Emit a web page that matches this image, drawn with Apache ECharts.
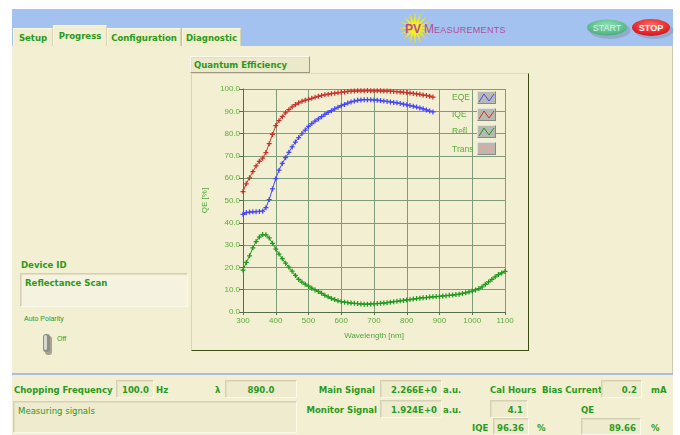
<!DOCTYPE html>
<html>
<head>
<meta charset="utf-8">
<script src="https://cdn.jsdelivr.net/npm/echarts@6/dist/echarts.min.js"></script>
<style>
body{margin:0;width:680px;height:435px;background:#fff;overflow:hidden;position:relative;font-family:"DejaVu Sans Condensed","DejaVu Sans",sans-serif;}
.abs{position:absolute;}
.topbar{left:12px;top:9px;width:661px;height:37px;background:#a4c2ef;}
.tab{position:absolute;top:28px;height:18px;background:#f1edcd;border:1px solid #d8d4b2;border-bottom:none;border-top-color:#fbf8e6;border-left-color:#fbf8e6;color:#2a9a1c;font-weight:bold;font-size:9.5px;text-align:center;line-height:18px;box-sizing:border-box;}
.tab.on{top:25px;height:21px;background:#f3efd2;line-height:19px;}
.panel{left:12px;top:46px;width:661px;height:327px;background:#f3efd2;border-right:1px solid #cfcbb0;box-sizing:border-box;}
.sep{left:12px;top:373px;width:661px;height:2px;background:#a8bde0;}
.bottom{left:12px;top:375px;width:661px;height:60px;background:#f3efd2;}
.lbl{position:absolute;color:#2a9a1c;font-weight:bold;font-size:9.5px;white-space:nowrap;}
.box{position:absolute;background:#efebcf;border:1px solid;border-color:#d4d0b4 #fbf9ea #fbf9ea #d4d0b4;box-shadow:inset 1px 1px 0 #e2dec2;box-sizing:border-box;color:#2a9a1c;font-weight:bold;font-size:9.5px;text-align:right;padding-right:4px;line-height:17px;}
.frame{left:191px;top:73px;width:338px;height:278px;background:#f3efd2;border:1px solid;border-color:#dcdcb8 #3e4a14 #3e4a14 #d4d8b0;box-sizing:border-box;}
.leg{position:absolute;color:#5cab3a;font-size:8.5px;font-family:"Liberation Sans",sans-serif;}
.legicon{position:absolute;left:477px;width:19px;height:13px;background:#b9b9b3;border:1px solid;border-color:#e2e2dc #8a8a84 #8a8a84 #e2e2dc;box-sizing:border-box;}
.legicon svg{display:block;}
</style>
</head>
<body>
<div class="abs topbar"></div>
<div class="tab" style="left:13px;width:40px;">Setup</div>
<div class="tab on" style="left:53px;width:54px;">Progress</div>
<div class="tab" style="left:107px;width:74px;">Configuration</div>
<div class="tab" style="left:182px;width:59px;">Diagnostic</div>

<!-- logo -->
<svg class="abs" style="left:396px;top:10px;" width="140" height="36">
  <polygon id="star" fill="#f4ee2a" stroke="#e8dc10" stroke-width="0.5"></polygon>
  <text x="9" y="23" font-family="Liberation Sans,sans-serif" font-size="12" fill="#b64a9e" font-weight="bold">PV</text>
  <text x="28" y="23" font-family="Liberation Sans,sans-serif" font-size="12" fill="#b64a9e">M</text>
  <text x="38" y="23" font-family="Liberation Sans,sans-serif" font-size="9" fill="#b64a9e" letter-spacing="0.3">EASUREMENTS</text>
</svg>
<!-- buttons -->
<svg class="abs" style="left:584px;top:16px;" width="92" height="26">
  <defs>
    <radialGradient id="gg" cx="50%" cy="35%" r="65%"><stop offset="0" stop-color="#8fe0b4"/><stop offset="1" stop-color="#4aae7c"/></radialGradient>
    <radialGradient id="rg" cx="50%" cy="35%" r="65%"><stop offset="0" stop-color="#ff6a5e"/><stop offset="1" stop-color="#d8101a"/></radialGradient>
  </defs>
  <ellipse cx="24" cy="12.5" rx="20.5" ry="8.5" fill="#7f93b0" opacity="0.5" transform="translate(2,2)"/>
  <ellipse cx="23" cy="11.5" rx="20" ry="8" fill="url(#gg)"/>
  <text x="23" y="15" text-anchor="middle" font-family="Liberation Sans,sans-serif" font-size="9" fill="#d8f4e4">START</text>
  <ellipse cx="68" cy="12.5" rx="19.5" ry="8.5" fill="#7f93b0" opacity="0.5" transform="translate(2,2)"/>
  <ellipse cx="67" cy="11.5" rx="19" ry="8.5" fill="url(#rg)"/>
  <text x="67" y="15" text-anchor="middle" font-family="Liberation Sans,sans-serif" font-size="9" font-weight="bold" fill="#ffffff">STOP</text>
</svg>

<div class="abs panel"></div>

<!-- chart -->
<div class="box" style="left:190px;top:56px;width:120px;height:17px;text-align:left;padding-left:3px;line-height:16px;background:#ece8ca;border-color:#fbf9ea #9c9880 #9c9880 #fbf9ea;">Quantum Efficiency</div>
<div class="abs frame"></div>
<div id="chart" class="abs" style="left:192px;top:74px;width:336px;height:276px;"></div>
<div class="leg" style="left:452px;top:92px;">EQE</div>
<div class="leg" style="left:452px;top:109px;">IQE</div>
<div class="leg" style="left:452px;top:126px;">Refl</div>
<div class="leg" style="left:452px;top:144px;">Trans</div>
<div class="legicon" style="top:91px;"><svg width="17" height="11"><polyline points="1,10 6,2 11,9 16,2" fill="none" stroke="#4a4aff" stroke-width="1"/></svg></div>
<div class="legicon" style="top:108px;"><svg width="17" height="11"><polyline points="1,10 6,2 11,9 16,2" fill="none" stroke="#c8342c" stroke-width="1"/></svg></div>
<div class="legicon" style="top:125px;"><svg width="17" height="11"><polyline points="1,10 6,2 11,9 16,2" fill="none" stroke="#1f9a1f" stroke-width="1"/></svg></div>
<div class="legicon" style="top:142px;"><svg width="17" height="11"><polyline points="1,10 6,2 11,9 16,2" fill="none" stroke="#f5a090" stroke-width="1.3"/></svg></div>

<!-- left side -->
<div class="lbl" style="left:21px;top:259px;">Device ID</div>
<div class="box" style="left:20px;top:273px;width:168px;height:34px;text-align:left;padding-left:4px;line-height:18px;background:#f5f2e0;">Reflectance Scan</div>
<div class="lbl" style="left:24px;top:315px;font-size:7px;font-weight:normal;font-family:'Liberation Sans',sans-serif;">Auto Polarity</div>
<svg class="abs" style="left:40px;top:332px;" width="20" height="26">
  <rect x="5" y="4" width="7" height="19" rx="3" fill="#5a5a50" opacity="0.5"/>
  <rect x="3" y="2" width="7" height="18" rx="3" fill="#8e8e88"/>
  <rect x="4" y="3" width="3" height="15" rx="1.5" fill="#d8d8d2"/>
</svg>
<div class="lbl" style="left:57px;top:335px;font-size:7px;font-weight:normal;font-family:'Liberation Sans',sans-serif;">Off</div>

<div class="abs sep"></div>
<div class="abs bottom"></div>

<!-- bottom panel -->
<div class="lbl" style="left:14px;top:384px;">Chopping Frequency</div>
<div class="box" style="left:116px;top:380px;width:38px;height:18px;">100.0</div>
<div class="lbl" style="left:156px;top:384px;">Hz</div>
<div class="lbl" style="left:215px;top:384px;">λ</div>
<div class="box" style="left:225px;top:380px;width:72px;height:18px;text-align:center;padding:0;">890.0</div>
<div class="box" style="left:13px;top:401px;width:284px;height:32px;text-align:left;padding-left:4px;font-weight:normal;line-height:17px;">Measuring signals</div>

<div class="lbl" style="right:305px;top:384px;">Main Signal</div>
<div class="box" style="left:380px;top:380px;width:62px;height:18px;">2.266E+0</div>
<div class="lbl" style="left:443px;top:384px;">a.u.</div>
<div class="lbl" style="right:303px;top:404px;">Monitor Signal</div>
<div class="box" style="left:380px;top:400px;width:62px;height:18px;">1.924E+0</div>
<div class="lbl" style="left:443px;top:404px;">a.u.</div>

<div class="lbl" style="left:490px;top:384px;">Cal Hours</div>
<div class="lbl" style="left:542px;top:384px;">Bias Current</div>
<div class="box" style="left:601px;top:380px;width:41px;height:18px;">0.2</div>
<div class="lbl" style="left:651px;top:384px;">mA</div>
<div class="box" style="left:490px;top:400px;width:38px;height:18px;">4.1</div>
<div class="lbl" style="left:581px;top:404px;">QE</div>
<div class="lbl" style="left:472px;top:422px;">IQE</div>
<div class="box" style="left:493px;top:418px;width:36px;height:17px;">96.36</div>
<div class="lbl" style="left:537px;top:422px;">%</div>
<div class="box" style="left:581px;top:418px;width:60px;height:17px;">89.66</div>
<div class="lbl" style="left:651px;top:422px;">%</div>

<script>
// wavelengths [nm]
var wavelengths = [300,310,320,330,340,350,360,370,380,390,400,410,420,430,440,450,460,470,480,490,
  500,510,520,530,540,550,560,570,580,590,600,610,620,630,640,650,660,670,680,690,
  700,710,720,730,740,750,760,770,780,790,800,810,820,830,840,850,860,870,880,890,
  900,910,920,930,940,950,960,970,980,990,1000,1010,1020,1030,1040,1050,1060,1070,1080,1090,1100];

// QE [%], measured up to 880 nm
var eqe = [43.8,44.6,44.8,44.9,45.0,45.1,45.2,46.8,50.4,55.2,59.8,63.6,66.6,69.2,71.6,74.0,76.2,78.2,80.0,81.6,
  83.2,84.5,85.6,86.6,87.6,88.6,89.5,90.3,91.1,91.8,92.5,93.1,93.7,94.2,94.6,94.9,95.1,95.2,95.2,95.2,
  95.1,95.0,94.8,94.6,94.4,94.2,94.0,93.8,93.5,93.2,92.9,92.6,92.3,91.9,91.5,91.1,90.6,90.1,89.7];
var iqe = [54.0,57.5,60.2,62.9,65.5,67.6,69.0,71.5,75.5,79.6,83.6,85.8,87.6,89.3,90.7,92.0,93.0,93.8,94.5,95.0,
  95.4,95.8,96.3,96.7,97.1,97.4,97.7,97.9,98.1,98.3,98.5,98.7,98.9,99.0,99.1,99.2,99.2,99.2,99.3,99.2,
  99.2,99.2,99.2,99.1,99.1,99.0,98.9,98.8,98.7,98.5,98.4,98.2,98.0,97.8,97.6,97.3,97.1,96.8,96.4];
var refl = [18.8,22.2,25.2,28.8,31.6,33.6,34.7,34.6,33.2,30.8,28.2,26.0,23.9,21.9,20.1,18.3,16.4,14.6,13.4,12.5,
  11.6,10.7,9.9,9.2,8.4,7.5,6.8,6.1,5.6,5.0,4.7,4.4,4.2,4.0,3.9,3.8,3.6,3.5,3.5,3.6,
  3.7,3.8,3.9,4.0,4.2,4.4,4.6,4.8,5.0,5.2,5.4,5.6,5.8,6.0,6.2,6.4,6.5,6.7,6.8,6.9,
  7.0,7.2,7.3,7.5,7.6,7.8,8.0,8.3,8.6,9.0,9.4,9.9,10.5,11.3,12.4,13.5,14.6,15.8,16.8,17.5,18.2];
var trans = [];

var xTicks = {min: 300, max: 1100, step: 100};
var yTicks = {min: 0, max: 100, step: 10};

// logo star
var pts = [];
for (var i = 0; i < 32; i++) {
  var r = i % 2 ? 6 : 15, a = i * Math.PI / 16;
  pts.push((19 + r * Math.cos(a)).toFixed(1) + ',' + (18 + r * Math.sin(a)).toFixed(1));
}
document.getElementById('star').setAttribute('points', pts.join(' '));

function pairs(ys){
  return ys.map(function(v, i){ return [wavelengths[i], v]; });
}

var plus = 'path://M3,0H5V3H8V5H5V8H3V5H0V3H3Z';
function line(name, data, color){
  return {
    name: name, type: 'line', data: pairs(data),
    symbol: plus, symbolSize: 5, showSymbol: true,
    lineStyle: {color: color, width: 1},
    itemStyle: {color: color},
    silent: true
  };
}

var chart = echarts.init(document.getElementById('chart'));
chart.setOption({
  animation: false,
  grid: {left: 51, top: 15, right: 23, bottom: 38},
  xAxis: {
    type: 'value', min: xTicks.min, max: xTicks.max, interval: xTicks.step,
    name: 'Wavelength [nm]', nameLocation: 'middle', nameGap: 20,
    nameTextStyle: {color: '#4fa63a', fontSize: 8, fontFamily: 'Liberation Sans'},
    axisLine: {lineStyle: {color: '#53704a'}},
    axisTick: {length: 3, lineStyle: {color: '#53704a'}},
    axisLabel: {color: '#5cab3a', fontSize: 8, margin: 5, fontFamily: 'Liberation Sans',
      formatter: function(v){ return String(v); }},
    splitLine: {lineStyle: {color: '#7f9c7a'}}
  },
  yAxis: {
    type: 'value', min: yTicks.min, max: yTicks.max, interval: yTicks.step,
    name: 'QE [%]', nameLocation: 'middle', nameGap: 33, nameRotate: 90,
    nameTextStyle: {color: '#4fa63a', fontSize: 8, fontFamily: 'Liberation Sans'},
    axisLine: {show: true, lineStyle: {color: '#53704a'}},
    axisTick: {show: true, length: 4, lineStyle: {color: '#53704a'}},
    axisLabel: {color: '#5cab3a', fontSize: 8, margin: 3, fontFamily: 'Liberation Sans',
      formatter: function(v){ return v.toFixed(1); }},
    splitLine: {lineStyle: {color: '#7f9c7a'}}
  },
  series: [
    line('EQE', eqe, '#4646ff'),
    line('IQE', iqe, '#c8342c'),
    line('Refl', refl, '#1f9a1f'),
    line('Trans', trans, '#f0a598')
  ]
});
</script>
</body>
</html>
